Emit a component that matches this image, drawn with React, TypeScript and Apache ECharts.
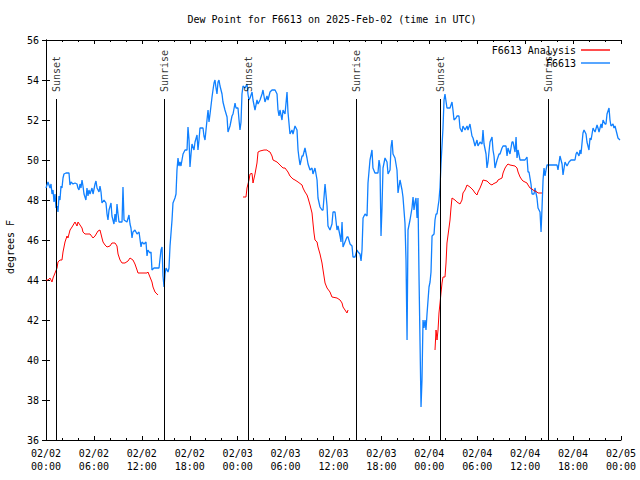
import React, { useEffect, useRef } from "react";
import * as echarts from "echarts";

const titleText = "Dew Point for F6613 on 2025-Feb-02 (time in UTC)";
const yAxisTitle = "degrees F";

// x axis in hours since 2025-02-02 00:00 UTC
const xTickLabels = [
  "02/02\n00:00", "02/02\n06:00", "02/02\n12:00", "02/02\n18:00",
  "02/03\n00:00", "02/03\n06:00", "02/03\n12:00", "02/03\n18:00",
  "02/04\n00:00", "02/04\n06:00", "02/04\n12:00", "02/04\n18:00",
  "02/05\n00:00",
];

const sunEventHours = [1.29, 14.82, 25.34, 38.82, 49.38, 62.9];
const sunEventNames = ["Sunset", "Sunrise", "Sunset", "Sunrise", "Sunset", "Sunrise"];

const observed: [number, number][] = [
  [0, 48.6], [0.25, 48.9], [0.5, 48.6], [0.63, 48.8], [0.75, 48.3], [0.88, 48.5], [1.0, 47.9],
  [1.13, 48.3], [1.25, 47.6], [1.38, 47.7], [1.5, 47.4], [1.63, 48.2], [1.75, 48.0], [1.88, 48.7],
  [2.0, 48.6], [2.13, 49.1], [2.25, 49.3], [2.5, 49.35], [2.88, 49.35], [3.0, 48.75], [3.13, 48.9],
  [3.38, 48.8], [3.63, 48.85], [3.88, 48.8], [4.0, 48.6], [4.13, 48.5], [4.26, 48.8], [4.38, 48.6],
  [4.51, 49.0], [4.63, 48.7], [4.76, 48.3], [5.0, 48.0], [5.13, 48.6], [5.26, 48.2], [5.38, 48.5],
  [5.51, 48.3], [5.76, 48.6], [5.89, 48.3], [6.14, 48.8], [6.26, 48.95], [6.39, 48.6], [6.64, 48.4],
  [6.76, 48.7], [6.89, 48.4], [7.01, 47.85], [7.26, 48.0], [7.51, 47.85], [7.64, 47.3], [7.76, 47.0],
  [7.89, 47.5], [8.14, 47.85], [8.26, 47.2], [8.51, 46.8], [8.64, 47.3], [8.77, 46.9], [8.89, 47.8],
  [9.02, 47.3], [9.14, 46.9], [9.52, 46.9], [9.64, 48.65], [9.77, 47.0], [10.14, 46.9], [10.39, 47.25],
  [10.52, 46.8], [10.64, 46.6], [10.77, 46.1], [10.89, 46.4], [11.14, 46.5], [11.4, 46.3], [11.65, 46.4],
  [11.9, 45.65], [12.02, 45.9], [12.27, 45.8], [12.52, 45.9], [12.65, 45.2], [12.77, 45.5], [13.02, 45.35],
  [13.15, 45.4], [13.27, 44.5], [13.52, 44.6], [14.15, 44.6], [14.4, 45.5], [14.53, 45.65], [14.65, 44.2],
  [14.78, 43.65], [14.9, 44.3], [15.03, 44.6], [15.28, 44.4], [15.4, 44.6], [15.53, 45.7], [15.78, 47.0],
  [15.9, 47.85], [16.15, 48.1], [16.28, 48.3], [16.4, 49.5], [16.53, 50.1], [16.65, 49.7], [16.78, 49.9],
  [16.9, 49.7], [17.03, 50.0], [17.16, 50.3], [17.41, 50.5], [17.66, 50.5], [17.78, 51.65], [17.91, 51.0],
  [18.03, 49.65], [18.16, 50.3], [18.28, 50.8], [18.53, 50.5], [18.66, 50.9], [18.91, 51.25], [19.03, 50.5],
  [19.16, 51.0], [19.28, 51.6], [19.66, 51.6], [19.78, 51.2], [19.91, 51.0], [20.16, 52.0], [20.29, 52.5],
  [20.41, 51.9], [20.54, 52.3], [20.79, 53.15], [20.91, 53.5], [21.04, 53.85], [21.16, 54.0], [21.29, 53.6],
  [21.41, 53.3], [21.54, 53.9], [21.66, 54.0], [21.79, 53.7], [22.04, 53.3], [22.16, 52.9], [22.41, 52.5],
  [22.67, 52.15], [22.79, 51.4], [23.04, 51.7], [23.29, 52.2], [23.42, 52.3], [23.67, 52.85], [23.79, 52.6],
  [24.04, 52.6], [24.17, 52.0], [24.29, 51.5], [24.42, 51.9], [24.54, 53.3], [24.67, 53.7], [24.92, 53.6],
  [25.17, 53.8], [25.29, 53.3], [25.42, 53.0], [25.55, 53.1], [25.8, 53.4], [25.92, 53.0], [26.17, 52.5],
  [26.42, 53.0], [26.55, 52.8], [26.8, 53.0], [27.05, 53.3], [27.17, 53.5], [27.42, 52.9], [27.67, 53.2],
  [27.8, 53.0], [28.05, 53.4], [28.3, 53.5], [28.68, 53.5], [28.93, 53.3], [29.05, 52.5], [29.18, 52.2],
  [29.3, 52.5], [29.55, 52.0], [29.68, 52.5], [29.93, 52.3], [30.18, 53.4], [30.3, 52.4], [30.55, 51.3],
  [30.8, 51.5], [30.93, 51.3], [31.18, 51.7], [31.43, 51.5], [31.56, 50.5], [31.68, 50.1], [31.81, 49.75],
  [32.06, 50.2], [32.18, 50.2], [32.43, 50.6], [32.68, 50.1], [32.81, 49.8], [33.06, 49.5], [33.31, 49.6],
  [33.43, 49.3], [33.68, 49.6], [33.94, 49.0], [34.06, 48.1], [34.31, 47.65], [34.56, 47.5], [34.69, 47.5],
  [34.94, 48.8], [35.19, 47.7], [35.31, 46.7], [35.56, 46.5], [35.81, 46.8], [35.94, 47.4], [36.19, 47.4],
  [36.44, 46.5], [36.57, 46.7], [36.82, 46.2], [36.94, 45.9], [37.07, 46.9], [37.19, 45.65], [37.44, 45.9],
  [37.69, 46.15], [37.82, 46.15], [38.07, 45.8], [38.32, 45.7], [38.44, 45.15], [38.69, 45.15], [38.94, 45.5],
  [39.07, 45.4], [39.32, 45.3], [39.45, 44.95], [39.57, 45.5], [39.7, 47.1], [39.95, 47.3], [40.2, 47.2],
  [40.32, 48.85], [40.57, 50.0], [40.82, 50.5], [40.94, 49.6], [41.19, 49.35], [41.57, 49.35], [41.7, 50.0],
  [41.82, 49.7], [41.95, 46.2], [42.07, 47.6], [42.2, 49.6], [42.45, 50.1], [42.7, 49.9], [42.83, 49.3],
  [43.08, 49.5], [43.2, 50.65], [43.33, 51.0], [43.45, 50.3], [43.7, 50.1], [43.95, 49.5], [44.08, 48.35],
  [44.33, 49.0], [44.58, 48.5], [44.7, 48.15], [44.95, 46.85], [45.08, 45.0], [45.21, 41.0], [45.33, 46.5],
  [45.58, 47.0], [45.83, 47.6], [45.96, 48.15], [46.08, 47.5], [46.21, 47.9], [46.33, 48.1], [46.46, 47.1],
  [46.58, 48.1], [46.71, 44.1], [46.83, 41.0], [46.96, 37.65], [47.08, 39.0], [47.21, 42.0], [47.33, 41.6],
  [47.46, 42.0], [47.58, 41.5], [47.71, 42.3], [47.96, 43.65], [48.09, 43.9], [48.21, 44.4], [48.34, 46.2],
  [48.59, 46.3], [48.71, 47.0], [48.84, 47.3], [48.96, 47.3], [49.21, 48.0], [49.34, 48.65], [49.46, 49.8],
  [49.71, 51.6], [49.84, 53.0], [49.96, 53.3], [50.21, 52.6], [50.34, 52.6], [50.59, 52.6], [50.84, 52.9],
  [50.96, 52.5], [51.09, 52.0], [51.34, 52.1], [51.46, 52.2], [51.71, 52.2], [51.84, 51.6], [52.09, 51.4],
  [52.21, 51.7], [52.47, 51.5], [52.72, 51.7], [52.84, 51.5], [53.09, 51.8], [53.34, 51.2], [53.47, 51.1],
  [53.72, 50.7], [53.97, 51.0], [54.09, 50.7], [54.35, 50.9], [54.6, 50.8], [54.72, 51.5], [54.85, 50.8],
  [55.1, 50.3], [55.22, 49.6], [55.35, 49.9], [55.47, 50.4], [55.6, 50.9], [55.85, 51.15], [55.97, 50.5],
  [56.1, 50.2], [56.22, 49.6], [56.48, 50.0], [56.73, 50.3], [56.85, 50.3], [57.1, 50.6], [57.23, 50.7],
  [57.6, 50.7], [57.73, 50.2], [57.85, 50.6], [58.1, 50.3], [58.35, 50.9], [58.48, 50.9], [58.73, 50.4],
  [58.86, 51.15], [58.98, 50.1], [59.11, 50.5], [59.36, 50.0], [59.98, 50.0], [60.23, 50.15], [60.36, 49.4],
  [60.48, 49.4], [60.73, 48.8], [60.86, 48.3], [61.11, 48.3], [61.23, 48.6], [61.48, 48.1], [61.61, 47.6],
  [61.86, 47.4], [61.99, 46.4], [62.11, 47.6], [62.24, 49.0], [62.36, 49.6], [62.49, 49.2], [62.61, 49.5],
  [62.74, 49.75], [63.99, 49.75], [64.11, 49.5], [64.36, 50.2], [64.62, 49.8], [64.74, 49.25], [64.99, 49.9],
  [65.24, 49.7], [65.49, 49.9], [65.74, 50.0], [66.24, 50.0], [66.37, 50.3], [66.49, 50.4], [66.74, 50.2],
  [66.87, 50.5], [66.99, 50.3], [67.24, 51.35], [67.37, 51.5], [67.62, 51.3], [67.74, 50.9], [67.99, 50.5],
  [68.12, 51.1], [68.25, 51.0], [68.5, 51.6], [68.62, 51.5], [68.75, 51.4], [69.0, 51.75], [69.12, 51.6],
  [69.25, 51.4], [69.5, 51.8], [69.62, 51.6], [69.75, 52.0], [70.0, 51.8], [70.12, 51.8], [70.25, 52.3],
  [70.5, 52.6], [70.62, 52.0], [70.75, 51.7], [71.0, 51.8], [71.12, 51.6], [71.25, 51.7], [71.5, 51.3],
  [71.62, 51.1], [71.87, 51.0],
];

const analysisDay1: [number, number][] = [
  [0, 44.0], [0.25, 44.0], [0.5, 44.1], [0.75, 43.9], [0.88, 44.1], [1.13, 44.35], [1.38, 44.6], [1.5, 44.9],
  [1.75, 45.0], [2.0, 45.0], [2.13, 45.4], [2.38, 45.9], [2.63, 46.2], [2.75, 46.1], [3.01, 46.5], [3.26, 46.65],
  [3.63, 46.9], [3.88, 46.7], [4.01, 46.9], [4.26, 46.75], [4.51, 46.6], [4.63, 46.4], [4.88, 46.3], [5.51, 46.3],
  [5.89, 46.1], [6.14, 46.2], [6.51, 46.45], [6.76, 46.5], [7.01, 46.1], [7.14, 45.9], [7.39, 45.75], [7.64, 45.65],
  [8.01, 45.7], [8.26, 45.85], [8.64, 45.85], [8.89, 45.7], [9.02, 45.3], [9.27, 45.0], [9.52, 44.85], [9.89, 44.85],
  [10.27, 44.95], [10.52, 45.1], [10.89, 45.0], [11.14, 44.8], [11.4, 44.5], [11.52, 44.35], [12.65, 44.35],
  [12.77, 44.4], [13.02, 44.15], [13.27, 43.9], [13.4, 43.65], [13.65, 43.4], [14.02, 43.25],
];

const analysisDay2: [number, number][] = [
  [24.67, 48.15], [25.04, 48.15], [25.17, 48.6], [25.42, 49.0], [25.55, 49.3], [25.8, 49.33], [25.92, 48.85],
  [26.17, 49.3], [26.42, 49.85], [26.55, 50.4], [26.8, 50.45], [27.3, 50.5], [27.67, 50.5], [27.8, 50.45],
  [28.05, 50.4], [28.3, 50.2], [28.43, 50.0], [28.93, 49.9], [29.3, 49.75], [29.68, 49.6], [29.93, 49.6],
  [30.3, 49.4], [30.55, 49.2], [30.93, 49.05], [31.18, 49.0], [31.56, 48.9], [32.06, 48.75], [32.18, 48.6],
  [32.43, 48.4], [32.68, 48.25], [32.81, 48.1], [33.06, 47.75], [33.31, 47.35], [33.43, 46.85], [33.56, 46.35],
  [33.68, 46.0], [33.94, 45.9], [34.06, 45.65], [34.31, 45.3], [34.56, 44.85], [34.69, 44.5], [34.94, 43.85],
  [35.19, 43.6], [35.56, 43.4], [35.81, 43.15], [36.44, 43.1], [36.82, 43.0], [37.07, 42.85], [37.19, 42.65],
  [37.44, 42.5], [37.69, 42.35], [37.82, 42.5],
];

const analysisDay3: [number, number][] = [
  [48.71, 40.5], [48.84, 41.5], [48.96, 41.0], [49.09, 41.5], [49.21, 42.35], [49.34, 42.85], [49.46, 43.35],
  [49.59, 43.85], [49.71, 44.15], [49.96, 44.15], [50.09, 44.85], [50.21, 45.85], [50.46, 46.6], [50.59, 47.0],
  [50.71, 47.6], [50.84, 48.1], [51.21, 48.0], [51.46, 47.9], [51.84, 47.8], [52.09, 48.0], [52.21, 48.35],
  [52.47, 48.5], [52.72, 48.75], [53.09, 48.65], [53.47, 48.5], [53.72, 48.35], [53.97, 48.25], [54.09, 48.4],
  [54.35, 48.6], [54.6, 48.85], [54.72, 49.0], [55.22, 48.95], [55.6, 48.8], [55.85, 48.75], [55.97, 48.8],
  [56.48, 48.9], [56.6, 49.0], [56.85, 49.05], [57.1, 49.1], [57.23, 49.35], [57.48, 49.6], [57.73, 49.75],
  [57.85, 49.8], [58.1, 49.75], [58.48, 49.72], [58.73, 49.7], [58.98, 49.6], [59.11, 49.4], [59.36, 49.15],
  [59.61, 49.0], [59.73, 48.95], [59.98, 48.9], [60.23, 48.85], [60.36, 48.75], [60.61, 48.6], [60.86, 48.55],
  [60.98, 48.5], [61.23, 48.45], [61.48, 48.4], [61.61, 48.35], [62.11, 48.35],
];

const FONT = "'DejaVu Sans Mono', monospace";
const RED = "#ff0000";
const BLUE = "#1080ff";

export default function App() {
  const ref = useRef<HTMLDivElement>(null);
  useEffect(() => {
    if (!ref.current) return;
    const chart = echarts.init(ref.current, undefined, { renderer: "svg" });
    const axisLine = { show: true, lineStyle: { color: "#000", width: 1 } };
    const analysisSeries = [analysisDay1, analysisDay2, analysisDay3].map((d) => ({
      name: "F6613 Analysis",
      type: "line",
      data: d,
      symbol: "none",
      lineStyle: { color: RED, width: 1 },
      itemStyle: { color: RED },
      z: 3,
    }));
    chart.setOption({
      animation: false,
      backgroundColor: "#fff",
      textStyle: { fontFamily: FONT },
      grid: { left: 46, right: 19, top: 40, bottom: 40, containLabel: false },
      legend: {
        orient: "vertical",
        right: 30,
        top: 44,
        align: "right",
        itemWidth: 29,
        itemHeight: 1.4,
        itemGap: 1,
        data: [
          { name: "F6613 Analysis", icon: "rect", itemStyle: { color: RED } },
          { name: "F6613", icon: "rect", itemStyle: { color: BLUE } },
        ],
        textStyle: { fontFamily: FONT, fontSize: 10, color: "#000", lineHeight: 12 },
        padding: 0,
      },
      graphic: [
        {
          type: "text",
          x: 332,
          y: 19,
          style: { text: titleText, font: `10px ${FONT}`, fill: "#000", align: "center", verticalAlign: "middle" },
        },
        {
          type: "text",
          x: 10,
          y: 247,
          rotation: Math.PI / 2,
          style: { text: yAxisTitle, font: `10px ${FONT}`, fill: "#000", align: "center", verticalAlign: "middle" },
        },
      ],
      xAxis: [
        {
          type: "value",
          min: 0,
          max: 72,
          interval: 6,
          position: "bottom",
          axisLine,
          axisTick: { show: true, inside: true, length: 4, lineStyle: { color: "#000" } },
          minorTick: { show: true, splitNumber: 3, length: 2, lineStyle: { color: "#000" } },
          splitLine: { show: false },
          axisLabel: {
            margin: 7,
            fontFamily: FONT,
            fontSize: 10,
            color: "#000",
            lineHeight: 13,
            formatter: (v: number) => xTickLabels[Math.round(v / 6)] ?? "",
          },
        },
        {
          type: "value",
          min: 0,
          max: 72,
          interval: 6,
          position: "top",
          axisLine,
          axisTick: { show: true, inside: true, length: 4, lineStyle: { color: "#000" } },
          minorTick: { show: true, splitNumber: 3, length: 2, lineStyle: { color: "#000" } },
          splitLine: { show: false },
          axisLabel: { show: false },
        },
      ],
      yAxis: [
        {
          type: "value",
          min: 36,
          max: 56,
          interval: 2,
          position: "left",
          axisLine,
          axisTick: { show: true, inside: true, length: 4, lineStyle: { color: "#000" } },
          splitLine: { show: false },
          axisLabel: { margin: 7, fontFamily: FONT, fontSize: 10, color: "#000" },
        },
        {
          type: "value",
          min: 36,
          max: 56,
          interval: 2,
          position: "right",
          axisLine,
          axisTick: { show: true, inside: true, length: 4, lineStyle: { color: "#000" } },
          splitLine: { show: false },
          axisLabel: { show: false },
        },
      ],
      series: [
        ...analysisSeries,
        {
          name: "F6613",
          type: "line",
          data: observed,
          symbol: "none",
          lineStyle: { color: BLUE, width: 1.3 },
          itemStyle: { color: BLUE },
          z: 2,
        },
        {
          name: "sun",
          type: "scatter",
          symbolSize: 0,
          data: sunEventHours.map((h, i) => ({ value: [h, 53.4], name: sunEventNames[i] })),
          label: {
            show: true,
            position: "inside",
            rotate: 90,
            align: "left",
            verticalAlign: "middle",
            formatter: (p: any) => p.name,
            fontFamily: FONT,
            fontSize: 10,
            color: "#000",
          },
          markLine: {
            silent: true,
            symbol: "none",
            label: { show: false },
            lineStyle: { color: "#000", width: 1, type: "solid" },
            data: sunEventHours.map((h) => [{ coord: [h, 36] }, { coord: [h, 53.05] }]),
          },
          z: 4,
        },
      ],
    });
    return () => chart.dispose();
  }, []);
  return (
    <div
      ref={ref}
      style={{ position: "absolute", left: 0, top: 0, width: 640, height: 480, background: "#fff" }}
    />
  );
}
